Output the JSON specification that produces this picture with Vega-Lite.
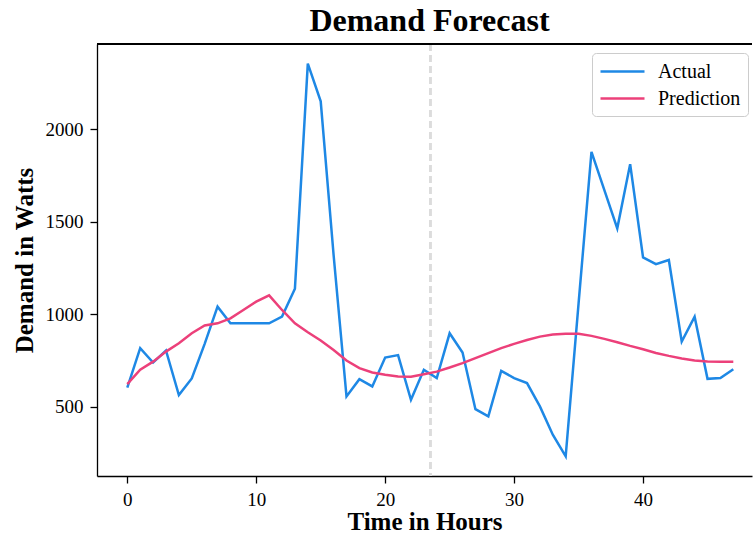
{
  "$schema": "https://vega.github.io/schema/vega-lite/v6.json",
  "autosize": {"type": "none"},
  "padding": {"left": 97, "top": 44, "right": 1, "bottom": 62},
  "width": 655,
  "height": 432,
  "background": "white",
  "title": {
    "text": "Demand Forecast",
    "font": "Liberation Serif",
    "fontSize": 32,
    "fontWeight": "bold",
    "color": "black",
    "anchor": "middle",
    "offset": 5,
    "dx": 5
  },
  "config": {
    "view": {"stroke": null},
    "axis": {
      "labelFont": "Liberation Serif",
      "labelFontSize": 19,
      "labelColor": "black",
      "titleFont": "Liberation Serif",
      "titleFontSize": 25,
      "titleFontWeight": "bold",
      "titleColor": "black",
      "domainColor": "black",
      "domainWidth": 1.3,
      "tickColor": "black",
      "tickWidth": 1.3,
      "tickSize": 7,
      "grid": false
    }
  },
  "data": {
    "values": [
      {"hour": 0, "value": 604, "series": "Actual"},
      {"hour": 1, "value": 817, "series": "Actual"},
      {"hour": 2, "value": 739, "series": "Actual"},
      {"hour": 3, "value": 804, "series": "Actual"},
      {"hour": 4, "value": 563, "series": "Actual"},
      {"hour": 5, "value": 653, "series": "Actual"},
      {"hour": 6, "value": 840, "series": "Actual"},
      {"hour": 7, "value": 1041, "series": "Actual"},
      {"hour": 8, "value": 951, "series": "Actual"},
      {"hour": 9, "value": 951, "series": "Actual"},
      {"hour": 10, "value": 951, "series": "Actual"},
      {"hour": 11, "value": 951, "series": "Actual"},
      {"hour": 12, "value": 987, "series": "Actual"},
      {"hour": 13, "value": 1138, "series": "Actual"},
      {"hour": 14, "value": 2354, "series": "Actual"},
      {"hour": 15, "value": 2150, "series": "Actual"},
      {"hour": 16, "value": 1320, "series": "Actual"},
      {"hour": 17, "value": 556, "series": "Actual"},
      {"hour": 18, "value": 649, "series": "Actual"},
      {"hour": 19, "value": 610, "series": "Actual"},
      {"hour": 20, "value": 766, "series": "Actual"},
      {"hour": 21, "value": 779, "series": "Actual"},
      {"hour": 22, "value": 538, "series": "Actual"},
      {"hour": 23, "value": 700, "series": "Actual"},
      {"hour": 24, "value": 655, "series": "Actual"},
      {"hour": 25, "value": 897, "series": "Actual"},
      {"hour": 26, "value": 793, "series": "Actual"},
      {"hour": 27, "value": 487, "series": "Actual"},
      {"hour": 28, "value": 448, "series": "Actual"},
      {"hour": 29, "value": 694, "series": "Actual"},
      {"hour": 30, "value": 655, "series": "Actual"},
      {"hour": 31, "value": 628, "series": "Actual"},
      {"hour": 32, "value": 502, "series": "Actual"},
      {"hour": 33, "value": 349, "series": "Actual"},
      {"hour": 34, "value": 232, "series": "Actual"},
      {"hour": 35, "value": 1059, "series": "Actual"},
      {"hour": 36, "value": 1877, "series": "Actual"},
      {"hour": 37, "value": 1670, "series": "Actual"},
      {"hour": 38, "value": 1464, "series": "Actual"},
      {"hour": 39, "value": 1811, "series": "Actual"},
      {"hour": 40, "value": 1307, "series": "Actual"},
      {"hour": 41, "value": 1271, "series": "Actual"},
      {"hour": 42, "value": 1293, "series": "Actual"},
      {"hour": 43, "value": 852, "series": "Actual"},
      {"hour": 44, "value": 987, "series": "Actual"},
      {"hour": 45, "value": 651, "series": "Actual"},
      {"hour": 46, "value": 655, "series": "Actual"},
      {"hour": 47, "value": 703, "series": "Actual"},
      {"hour": 0, "value": 622, "series": "Prediction"},
      {"hour": 1, "value": 700, "series": "Prediction"},
      {"hour": 2, "value": 744, "series": "Prediction"},
      {"hour": 3, "value": 798, "series": "Prediction"},
      {"hour": 4, "value": 843, "series": "Prediction"},
      {"hour": 5, "value": 897, "series": "Prediction"},
      {"hour": 6, "value": 939, "series": "Prediction"},
      {"hour": 7, "value": 951, "series": "Prediction"},
      {"hour": 8, "value": 978, "series": "Prediction"},
      {"hour": 9, "value": 1023, "series": "Prediction"},
      {"hour": 10, "value": 1068, "series": "Prediction"},
      {"hour": 11, "value": 1102, "series": "Prediction"},
      {"hour": 12, "value": 1023, "series": "Prediction"},
      {"hour": 13, "value": 951, "series": "Prediction"},
      {"hour": 14, "value": 903, "series": "Prediction"},
      {"hour": 15, "value": 858, "series": "Prediction"},
      {"hour": 16, "value": 807, "series": "Prediction"},
      {"hour": 17, "value": 750, "series": "Prediction"},
      {"hour": 18, "value": 709, "series": "Prediction"},
      {"hour": 19, "value": 685, "series": "Prediction"},
      {"hour": 20, "value": 673, "series": "Prediction"},
      {"hour": 21, "value": 663, "series": "Prediction"},
      {"hour": 22, "value": 662, "series": "Prediction"},
      {"hour": 23, "value": 676, "series": "Prediction"},
      {"hour": 24, "value": 690, "series": "Prediction"},
      {"hour": 25, "value": 712, "series": "Prediction"},
      {"hour": 26, "value": 736, "series": "Prediction"},
      {"hour": 27, "value": 763, "series": "Prediction"},
      {"hour": 28, "value": 790, "series": "Prediction"},
      {"hour": 29, "value": 817, "series": "Prediction"},
      {"hour": 30, "value": 840, "series": "Prediction"},
      {"hour": 31, "value": 861, "series": "Prediction"},
      {"hour": 32, "value": 879, "series": "Prediction"},
      {"hour": 33, "value": 890, "series": "Prediction"},
      {"hour": 34, "value": 895, "series": "Prediction"},
      {"hour": 35, "value": 894, "series": "Prediction"},
      {"hour": 36, "value": 883, "series": "Prediction"},
      {"hour": 37, "value": 867, "series": "Prediction"},
      {"hour": 38, "value": 849, "series": "Prediction"},
      {"hour": 39, "value": 829, "series": "Prediction"},
      {"hour": 40, "value": 811, "series": "Prediction"},
      {"hour": 41, "value": 791, "series": "Prediction"},
      {"hour": 42, "value": 775, "series": "Prediction"},
      {"hour": 43, "value": 761, "series": "Prediction"},
      {"hour": 44, "value": 750, "series": "Prediction"},
      {"hour": 45, "value": 744, "series": "Prediction"},
      {"hour": 46, "value": 743, "series": "Prediction"},
      {"hour": 47, "value": 743, "series": "Prediction"}
    ]
  },
  "layer": [
    {
      "mark": {"type": "rule", "color": "#dcdcdc", "strokeWidth": 2, "strokeDash": [7, 4]},
      "encoding": {"x": {"datum": 23.5, "type": "quantitative"}}
    },
    {
      "mark": {"type": "rule", "color": "black", "strokeWidth": 1.3},
      "encoding": {"y": {"datum": 2460, "type": "quantitative"}}
    },
    {
      "mark": {"type": "line", "strokeWidth": 2.5, "clip": true},
      "encoding": {
        "x": {
          "field": "hour",
          "type": "quantitative",
          "scale": {"domain": [-2.35, 48.45], "nice": false, "zero": false},
          "axis": {"values": [0, 10, 20, 30, 40], "title": "Time in Hours", "titlePadding": 0, "labelPadding": 7, "labelFlush": false}
        },
        "y": {
          "field": "value",
          "type": "quantitative",
          "scale": {"domain": [126, 2460], "nice": false, "zero": false},
          "axis": {"values": [500, 1000, 1500, 2000], "format": "d", "title": "Demand in Watts", "titlePadding": 8, "labelPadding": 7, "labelFlush": false}
        },
        "color": {
          "field": "series",
          "type": "nominal",
          "scale": {"domain": ["Actual", "Prediction"], "range": ["#1E88E5", "#EC407A"]},
          "legend": {
            "title": null,
            "orient": "none",
            "legendX": 495,
            "legendY": 9,
            "symbolType": "M-1,0H3.4",
            "symbolSize": 400,
            "symbolStrokeWidth": 2.5,
            "labelFont": "Liberation Serif",
            "labelFontSize": 20,
            "labelColor": "black",
            "labelOffset": 36,
            "rowPadding": 5,
            "padding": 7,
            "strokeColor": "#cccccc",
            "fillColor": "white",
            "cornerRadius": 4
          }
        }
      }
    }
  ]
}
